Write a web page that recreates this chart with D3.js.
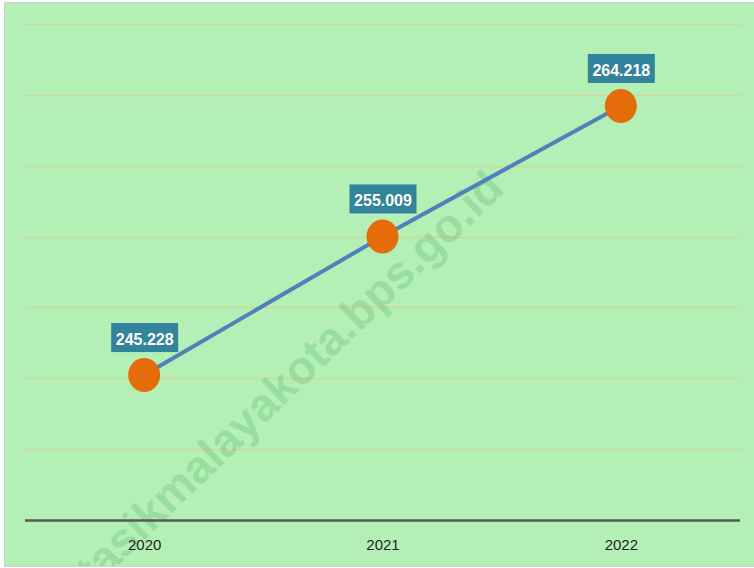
<!DOCTYPE html>
<html>
<head>
<meta charset="utf-8">
<script src="https://cdn.jsdelivr.net/npm/d3@7"></script>
<style>
	body { margin: 0; background: #ffffff; }
	#chart { width: 754px; height: 568px; overflow: hidden; }
</style>
</head>
<body>
<div id="chart"></div>
<script>

// data
var years = ['2020', '2021', '2022'];
var values = [245.228, 255.009, 264.218];
var labelText = ['245.228', '255.009', '264.218'];
var gridTicks = [235, 240, 245, 250, 255, 260, 265, 270];

var width = 754, height = 568;
var plotLeft = 25, plotRight = 740, plotTop = 24, plotBottom = 520;

var svg = d3.select('#chart')
			.append('svg')
				.attr('width', width)
				.attr('height', height);

// background panel
svg.append('rect')
		.attr('x', 4.5)
		.attr('y', 2.5)
		.attr('width', 780)
		.attr('height', 564)
		.style('fill', '#b4f0b6')
		.style('stroke', '#cfcfcf')
		.style('stroke-width', 1);

var x = d3.scalePoint()
			.domain(years)
			.range([plotLeft, plotRight])
			.padding(0.5);

var y = d3.scaleLinear()
			.domain([235, 270])
			.range([plotBottom, plotTop]);

// horizontal gridlines
svg.append('g')
		.selectAll('line')
		.data(gridTicks.slice(1))
		.enter()
		.append('line')
			.attr('x1', plotLeft)
			.attr('x2', plotRight)
			.attr('y1', function(d) { return Math.round(y(d)) + 0.5; })
			.attr('y2', function(d) { return Math.round(y(d)) + 0.5; })
			.style('stroke', '#d3d49a')
			.style('stroke-width', 1.6);

// watermark, clipped to the panel
svg.append('clipPath')
		.attr('id', 'panelClip')
	.append('rect')
		.attr('x', 5)
		.attr('y', 3)
		.attr('width', 780)
		.attr('height', 563);

svg.append('g')
		.attr('clip-path', 'url(#panelClip)')
	.append('text')
		.attr('transform', 'translate(289,378) rotate(-44)')
		.attr('text-anchor', 'middle')
		.attr('dominant-baseline', 'central')
		.text('tasikmalayakota.bps.go.id')
			.style('font-family', '"Liberation Sans", Arial, sans-serif')
			.style('font-weight', 'bold')
			.style('font-size', '46px')
			.style('fill', '#2f9a45')
			.style('opacity', 0.2);

// x axis
var xAxis = d3.axisBottom(x).tickSize(0).tickPadding(0);

svg.append('g')
		.attr('transform', 'translate(0,' + plotBottom + ')')
		.call(xAxis)
		.call(function(g) {
			g.select('.domain').remove();
			g.selectAll('text')
				.attr('dy', null)
				.attr('y', 30)
				.style('font-family', '"Liberation Sans", Arial, sans-serif')
				.style('font-size', '15px')
				.style('fill', '#1f1f1f');
		});

svg.append('line')
		.attr('x1', plotLeft)
		.attr('x2', plotRight)
		.attr('y1', plotBottom + 0.5)
		.attr('y2', plotBottom + 0.5)
		.style('stroke', '#595959')
		.style('stroke-width', 2.5);

// series line
var line = d3.line()
			.x(function(d, i) { return x(years[i]); })
			.y(function(d) { return y(d); });

svg.append('path')
		.datum(values)
		.attr('d', line)
		.style('fill', 'none')
		.style('stroke', '#4f81bd')
		.style('stroke-width', 4);

// markers
svg.append('g')
		.selectAll('ellipse')
		.data(values)
		.enter()
		.append('ellipse')
			.attr('cx', function(d, i) { return x(years[i]); })
			.attr('cy', function(d) { return y(d); })
			.attr('rx', 16)
			.attr('ry', 17)
			.style('fill', '#e46c0a');

// data labels
var labels = svg.append('g')
		.selectAll('g')
		.data(values)
		.enter()
		.append('g')
			.attr('transform', function(d, i) { return 'translate(' + x(years[i]) + ',' + y(d) + ')'; });

labels.append('rect')
		.attr('x', -33)
		.attr('y', -52)
		.attr('width', 67)
		.attr('height', 29)
		.style('fill', '#31849b');

labels.append('text')
		.attr('x', 0.5)
		.attr('y', -30)
		.attr('text-anchor', 'middle')
		.text(function(d, i) { return labelText[i]; })
			.style('font-family', '"Liberation Sans", Arial, sans-serif')
			.style('font-weight', 'bold')
			.style('font-size', '16px')
			.style('fill', '#ffffff');

</script>
</body>
</html>
